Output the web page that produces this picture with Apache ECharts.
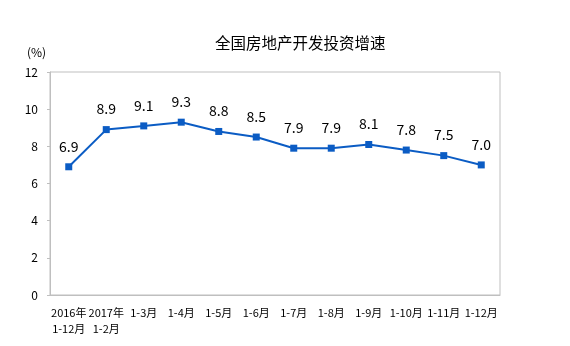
<!DOCTYPE html>
<html><head><meta charset="utf-8">
<script src="https://cdn.jsdelivr.net/npm/echarts@6/dist/echarts.min.js"></script>
<style>html,body{margin:0;padding:0;background:#fff}#c{width:570px;height:346px}</style>
</head><body><div id="c"></div>
<script>
const categories = ['2016年\n1-12月','2017年\n1-2月','1-3月','1-4月','1-5月','1-6月','1-7月','1-8月','1-9月','1-10月','1-11月','1-12月'];
const values = [6.9, 8.9, 9.1, 9.3, 8.8, 8.5, 7.9, 7.9, 8.1, 7.8, 7.5, 7.0];
const yTicks = [0, 2, 4, 6, 8, 10, 12];
const titleText = '全国房地产开发投资增速';
const unitText = '(%)';

const font = '"Noto Sans CJK SC", "DejaVu Sans", sans-serif';
const chart = echarts.init(document.getElementById('c'));
chart.setOption({
  animation: false,
  title: [{
    text: titleText, left: 210, top: 30,
    textStyle: { fontSize: 15.5, fontWeight: 'normal', color: '#000', fontFamily: font }
  }, {
    text: unitText, left: 22, top: 41,
    textStyle: { fontSize: 12, fontWeight: 'normal', color: '#000', fontFamily: font }
  }],
  grid: { left: 50, right: 70, top: 72, bottom: 51, show: true, borderColor: '#bfbfbf', borderWidth: 1 },
  xAxis: {
    type: 'category', data: categories, boundaryGap: true,
    axisLine: { lineStyle: { color: '#bfbfbf' } },
    axisTick: { inside: true, length: 5, lineStyle: { color: '#bfbfbf' }, alignWithLabel: false },
    axisLabel: { interval: 0, color: '#000', fontSize: 11, fontFamily: font, margin: 10, lineHeight: 16 }
  },
  yAxis: {
    type: 'value', min: yTicks[0], max: yTicks[yTicks.length - 1], interval: 2,
    axisLine: { show: true, lineStyle: { color: '#bfbfbf' } },
    axisTick: { show: true, length: 3, lineStyle: { color: '#bfbfbf' } },
    splitLine: { show: false },
    axisLabel: { color: '#000', fontSize: 12, fontFamily: font, margin: 12 }
  },
  series: [{
    type: 'line', data: values,
    symbol: 'rect', symbolSize: 7,
    lineStyle: { color: '#0b5cc4', width: 2 },
    itemStyle: { color: '#0b5cc4' },
    label: { show: true, position: 'top', distance: 10, color: '#000', fontSize: 14, fontFamily: font,
      formatter: p => p.value.toFixed(1) }
  }]
});
</script></body></html>
